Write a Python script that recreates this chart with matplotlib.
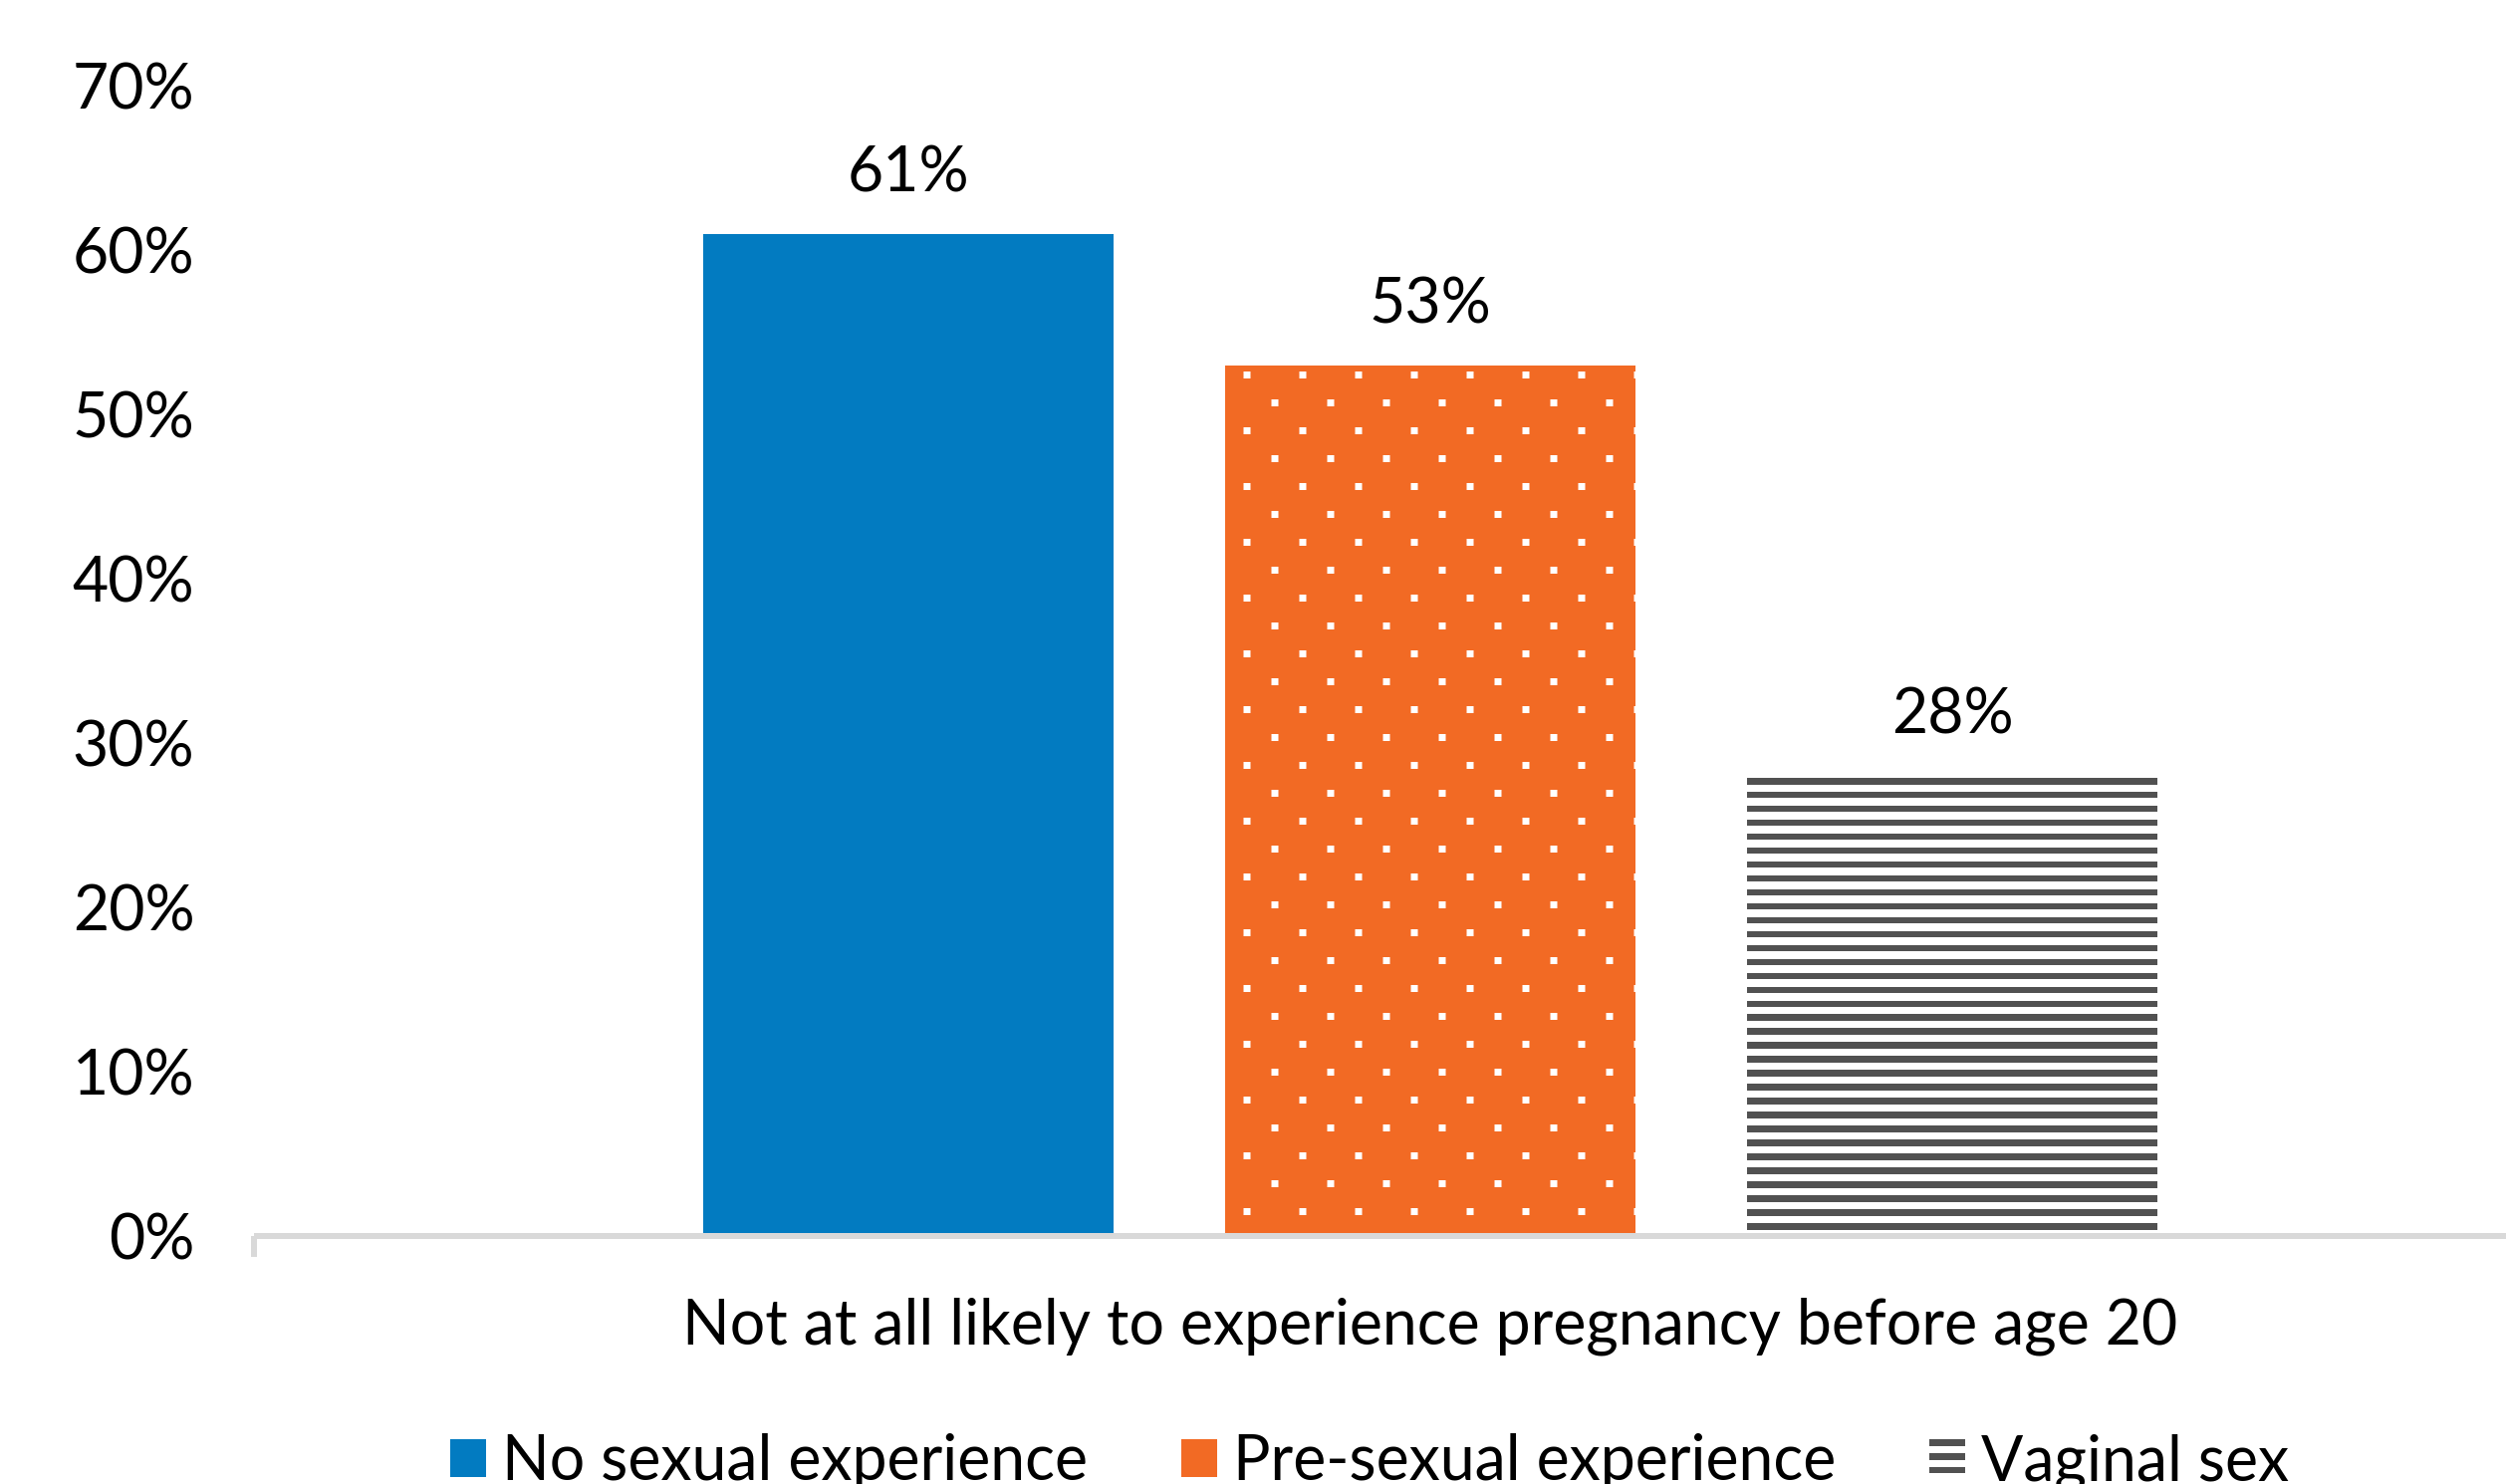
import numpy as np
import matplotlib
matplotlib.use("Agg")
import matplotlib.pyplot as plt
from matplotlib.patches import Rectangle, PathPatch
from matplotlib.path import Path
from matplotlib.transforms import IdentityTransform
from matplotlib.legend_handler import HandlerPatch

# ---- data -------------------------------------------------------------
category = "Not at all likely to experience pregnancy before age 20"
series = ["No sexual experience", "Pre-sexual experience", "Vaginal sex"]
values = [61, 53, 28]
y_ticks = [0, 10, 20, 30, 40, 50, 60, 70]

# ---- style ------------------------------------------------------------
BLUE = "#027BC1"
ORANGE = "#F26A24"
GREY = "#515151"
AXIS_GREY = "#D9D9D9"
FS = 45

plt.rcParams["font.family"] = ["Lato", "DejaVu Sans"]

W, H = 2516, 1490
fig = plt.figure(figsize=(W / 100, H / 100), dpi=100)
ax = fig.add_axes([255 / W, 248.7 / H, 1 - 255 / W, (1404 - 248.7) / H])

positions = [-1, 0, 1]
bar_width = 0.787
faces = [BLUE, ORANGE, "white"]
bars = ax.bar(positions, values, width=bar_width, color=faces,
              edgecolor="none", zorder=1)
x_left, x_right = -2.254, 2.061
ax.set_xlim(x_left, x_right)
ax.set_ylim(0, 70)

ax.bar_label(bars, labels=[f"{v}%" for v in values], padding=22.5,
             fontsize=FS, color="black")

# ---- axes -------------------------------------------------------------
ax.set_yticks(y_ticks, labels=[f"{t}%" for t in y_ticks])
ax.tick_params(axis="y", length=0, pad=43, labelsize=FS, labelcolor="black")

ax.set_xticks([x_left], labels=[""])
ax.tick_params(axis="x", which="major", direction="out", length=15,
               width=4.32, color=AXIS_GREY)
ax.set_xticks([0], labels=[category], minor=True)
ax.tick_params(axis="x", which="minor", length=0, pad=44, labelsize=FS,
               labelcolor="black")

for side in ("top", "right", "left"):
    ax.spines[side].set_visible(False)
ax.spines["bottom"].set_color(AXIS_GREY)
ax.spines["bottom"].set_linewidth(4.32)
ax.spines["bottom"].set_capstyle("butt")


# ---- fill textures (pixel space, clipped to the bars) ------------------
def squares(cx, cy, w, h):
    cx = np.asarray(cx, float)
    cy = np.asarray(cy, float)
    polys = np.stack([
        np.column_stack([cx - w / 2, cy - h / 2]),
        np.column_stack([cx + w / 2, cy - h / 2]),
        np.column_stack([cx + w / 2, cy + h / 2]),
        np.column_stack([cx - w / 2, cy + h / 2]),
    ], axis=1)
    return Path.make_compound_path_from_polys(polys)


# white dots on a staggered lattice
ii, jj = np.meshgrid(np.arange(-10, 40), np.arange(-5, 50))
mask = (ii + jj) % 2 == 0
dot_x = 1252 + 28 * ii[mask]
dot_y = H - (376.5 + 28 * jj[mask])
dots = PathPatch(squares(dot_x, dot_y, 7, 7), facecolor="white",
                 edgecolor="none", transform=IdentityTransform(), zorder=1.5)
ax.add_artist(dots)
dots.set_clip_path(bars.patches[1])

# grey horizontal stripes
k = np.arange(0, 40)
stripe_top = 781 + 13.97 * k
stripe_cy = H - (stripe_top + 3.25)
stripes = PathPatch(squares(np.full(k.shape, W / 2), stripe_cy, W, 6.5),
                    facecolor=GREY, edgecolor="none",
                    transform=IdentityTransform(), zorder=1.5)
ax.add_artist(stripes)
stripes.set_clip_path(bars.patches[2])


# ---- legend -----------------------------------------------------------
class TexturedHandler(HandlerPatch):
    def __init__(self, texture=None):
        super().__init__()
        self.texture = texture

    def create_artists(self, legend, orig_handle, xdescent, ydescent,
                       width, height, fontsize, trans):
        x0, y0 = -xdescent, -ydescent
        arts = [Rectangle((x0, y0), width, height,
                          facecolor=orig_handle.get_facecolor(),
                          edgecolor="none", transform=trans)]
        if self.texture == "stripes":
            pitch, thick = 9.9, 4.8
            top = y0 + height
            yt = top
            while yt > y0:
                yb = max(yt - thick, y0)
                arts.append(Rectangle((x0, yb), width, yt - yb,
                                      facecolor=GREY, edgecolor="none",
                                      transform=trans))
                yt -= pitch
        return arts


proxies = [Rectangle((0, 0), 1, 1, facecolor=c, edgecolor="none")
           for c in (BLUE, ORANGE, "white")]
fig.legend(proxies, series, loc="center left",
           bbox_to_anchor=(452 / W, 21.5 / H), ncol=3, frameon=False,
           fontsize=FS, handlelength=0.576, handleheight=0.56,
           handletextpad=0.256, columnspacing=1.5, borderpad=0,
           borderaxespad=0,
           handler_map={proxies[2]: TexturedHandler("stripes")})

fig.savefig("out.png", dpi=100)
